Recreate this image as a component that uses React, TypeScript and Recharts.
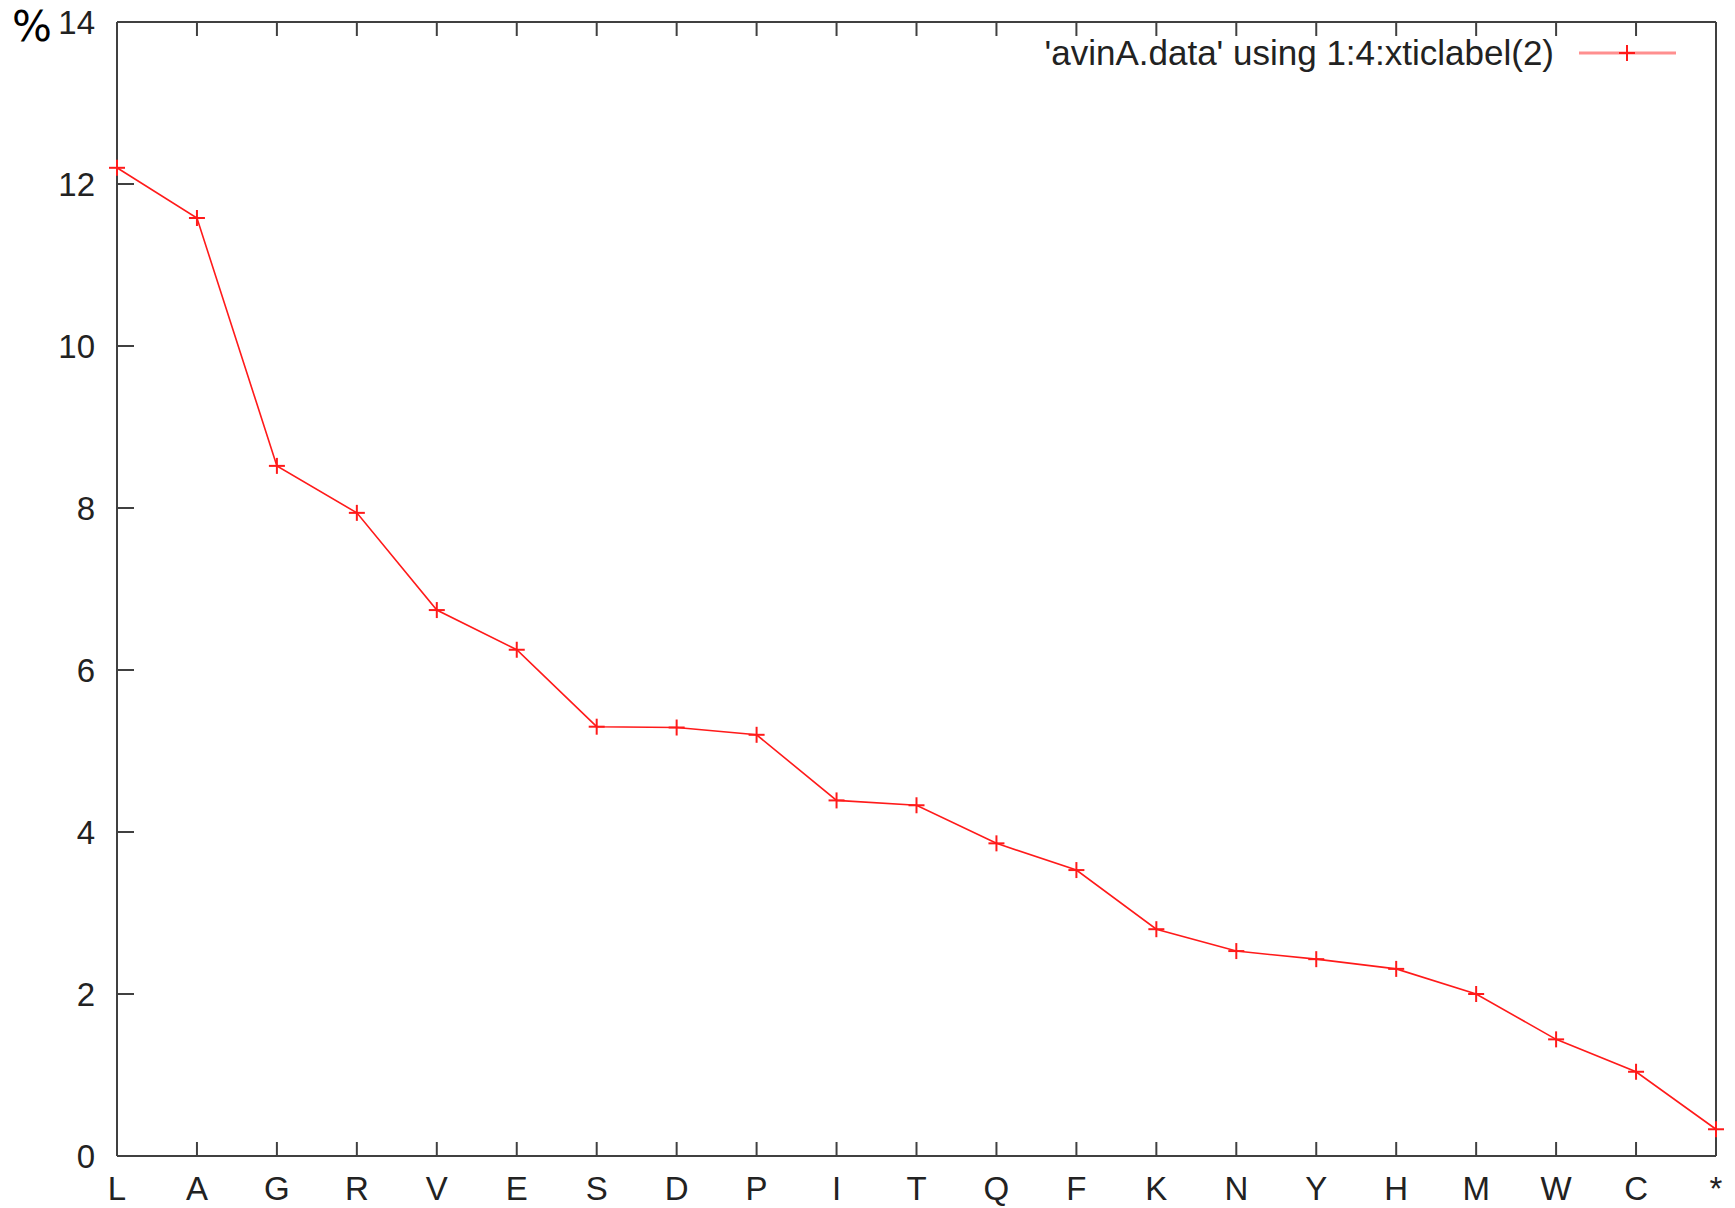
import React from "react";
import { LineChart, Line, XAxis, YAxis, Legend } from "recharts";

const residues = ["L", "A", "G", "R", "V", "E", "S", "D", "P", "I", "T", "Q", "F", "K", "N", "Y", "H", "M", "W", "C", "*"];
const percent = [12.2, 11.58, 8.52, 7.94, 6.74, 6.25, 5.3, 5.29, 5.2, 4.39, 4.33, 3.86, 3.53, 2.8, 2.53, 2.43, 2.31, 2.0, 1.44, 1.04, 0.33];
const yTicks = [0, 2, 4, 6, 8, 10, 12, 14];
const seriesName = "'avinA.data' using 1:4:xticlabel(2)";

const data = residues.map((aa, i) => ({ aa, pct: percent[i] }));

// plot frame, matches the chart margins below
const W = 1735, H = 1208;
const PL = 117, PR = 1716, PT = 22, PB = 1156;
const AXIS = "#404040";
const TEXT = "#222";
const RED = "#ff1a1a";
const FONT = "'Liberation Sans', Arial, sans-serif";

function BottomTick({ x, payload }: any) {
  return (
    <g>
      <line x1={x} x2={x} y1={PB} y2={PB - 14} stroke={AXIS} strokeWidth={2} />
      <text x={x} y={1200} textAnchor="middle" fill={TEXT} fontSize={33} fontFamily={FONT}>
        {payload.value}
      </text>
    </g>
  );
}

function TopTick({ x }: any) {
  return <line x1={x} x2={x} y1={PT} y2={PT + 14} stroke={AXIS} strokeWidth={2} />;
}

function LeftTick({ y, payload }: any) {
  return (
    <g>
      <line x1={PL} x2={PL + 17} y1={y} y2={y} stroke={AXIS} strokeWidth={2} />
      <text x={95} y={y + 12} textAnchor="end" fill={TEXT} fontSize={33} fontFamily={FONT}>
        {payload.value}
      </text>
    </g>
  );
}

function RightTick({ y }: any) {
  return <line x1={PR} x2={PR - 17} y1={y} y2={y} stroke={AXIS} strokeWidth={2} />;
}

function PlusDot({ cx, cy }: any) {
  if (cx == null || cy == null) return null;
  return (
    <g>
      <line x1={cx - 8} x2={cx + 8} y1={cy} y2={cy} stroke={RED} strokeWidth={2} />
      <line x1={cx} x2={cx} y1={cy - 8} y2={cy + 8} stroke={RED} strokeWidth={2} />
    </g>
  );
}

function LegendBox({ payload }: any) {
  const label = payload && payload[0] ? payload[0].value : seriesName;
  return (
    <div style={{ display: "flex", alignItems: "center", justifyContent: "flex-end" }}>
      <span style={{ fontFamily: FONT, fontSize: 35, color: TEXT, whiteSpace: "nowrap" }}>{label}</span>
      <svg width={124} height={30}>
        <line x1={25} x2={122} y1={15} y2={15} stroke="#ff8f8f" strokeWidth={3} />
        <line x1={65} x2={81} y1={15} y2={15} stroke={RED} strokeWidth={2} />
        <line x1={73} x2={73} y1={7} y2={23} stroke={RED} strokeWidth={2} />
      </svg>
    </div>
  );
}

export default function App() {
  return (
    <div style={{ position: "absolute", left: 0, top: 0, width: W, height: H, background: "#fff" }}>
      <LineChart width={W} height={H} data={data} margin={{ top: PT - 1, right: W - PR - 1, bottom: 0, left: 0 }}>
        <XAxis
          dataKey="aa"
          height={H - PB}
          interval={0}
          axisLine={{ stroke: AXIS, strokeWidth: 2 }}
          tickLine={false}
          tick={<BottomTick />}
        />
        <XAxis
          xAxisId="top"
          dataKey="aa"
          orientation="top"
          height={1}
          interval={0}
          axisLine={{ stroke: AXIS, strokeWidth: 2 }}
          tickLine={false}
          tick={<TopTick />}
        />
        <YAxis
          width={PL}
          domain={[0, 14]}
          ticks={yTicks}
          interval={0}
          axisLine={{ stroke: AXIS, strokeWidth: 2 }}
          tickLine={false}
          tick={<LeftTick />}
        />
        <YAxis
          yAxisId="right"
          orientation="right"
          width={1}
          domain={[0, 14]}
          ticks={yTicks}
          interval={0}
          axisLine={{ stroke: AXIS, strokeWidth: 2 }}
          tickLine={false}
          tick={<RightTick />}
        />
        <Legend
          layout="vertical"
          align="center"
          verticalAlign="middle"
          content={<LegendBox />}
          wrapperStyle={{ position: "absolute", top: 33, left: 878, width: 800 }}
        />
        <Line
          type="linear"
          dataKey="pct"
          name={seriesName}
          stroke={RED}
          strokeWidth={1.6}
          dot={<PlusDot />}
          activeDot={false}
          isAnimationActive={false}
        />
      </LineChart>
      <div
        style={{
          position: "absolute",
          left: 12,
          top: 3,
          fontFamily: "'DejaVu Sans', sans-serif",
          fontSize: 42,
          lineHeight: "48px",
          color: "#000",
        }}
      >
        %
      </div>
    </div>
  );
}
